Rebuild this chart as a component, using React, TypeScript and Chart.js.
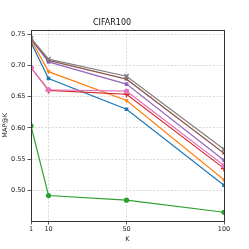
import React, { useEffect, useRef } from "react";
import { Chart, registerables } from "chart.js";

Chart.register(...registerables);

const kValues = [1, 10, 50, 100];
const xTicks = [1, 10, 50, 100];
const yTicks = [0.5, 0.55, 0.6, 0.65, 0.7, 0.75];

const blueSeries = [0.7366, 0.679, 0.6298, 0.508];
const orangeSeries = [0.741, 0.69, 0.6437, 0.5166];
const greenSeries = [0.603, 0.4915, 0.484, 0.4647];
const redSeries = [0.6966, 0.66, 0.6538, 0.535];
const purpleSeries = [0.742, 0.7056, 0.67, 0.548];
const brownSeries = [0.7425, 0.708, 0.678, 0.5593];
const pinkSeries = [0.6966, 0.661, 0.6587, 0.5395];
const graySeries = [0.7436, 0.71, 0.6827, 0.5657];

const seriesList = [
  { values: blueSeries, color: "#1f77b4", style: "rect", rot: 0 },
  { values: orangeSeries, color: "#ff7f0e", style: "triangle", rot: 180 },
  { values: greenSeries, color: "#2ca02c", style: "circle", rot: 0 },
  { values: redSeries, color: "#d62728", style: "cross", rot: 0 },
  { values: purpleSeries, color: "#9467bd", style: "rect", rot: 0 },
  { values: brownSeries, color: "#8c564b", style: "triangle", rot: 0 },
  { values: pinkSeries, color: "#e377c2", style: "circle", rot: 0 },
  { values: graySeries, color: "#7f7f7f", style: "crossRot", rot: 0 },
];

const FONT = "'DejaVu Sans', sans-serif";

const framePlugin = {
  id: "frame",
  afterDatasetsDraw(chart: any) {
    const { ctx, chartArea } = chart;
    ctx.save();
    ctx.strokeStyle = "#333";
    ctx.lineWidth = 1;
    ctx.strokeRect(
      Math.round(chartArea.left) + 0.5,
      Math.round(chartArea.top) + 0.5,
      Math.round(chartArea.right - chartArea.left),
      Math.round(chartArea.bottom - chartArea.top)
    );
    ctx.restore();
  },
};

export default function App() {
  const ref = useRef<HTMLCanvasElement>(null);
  useEffect(() => {
    const chart = new Chart(ref.current!, {
      type: "line",
      data: {
        datasets: seriesList.map((s, i) => ({
          data: kValues.map((k, j) => ({ x: k, y: s.values[j] })),
          borderColor: s.color,
          backgroundColor: s.color,
          borderWidth: 1.2,
          pointStyle: s.style as any,
          pointRotation: s.rot,
          pointRadius: s.style === "cross" || s.style === "crossRot" ? 3 : 2.6,
          pointBorderWidth: s.style === "cross" || s.style === "crossRot" ? 1.5 : 0,
          pointBorderColor: s.color,
          pointBackgroundColor: s.color,
          tension: 0,
          order: seriesList.length - i,
        })),
      },
      options: {
        animation: false,
        responsive: true,
        maintainAspectRatio: false,
        layout: { padding: { left: 0, right: 25, top: 0, bottom: 0 } },
        plugins: {
          legend: { display: false },
          tooltip: { enabled: false },
          title: {
            display: true,
            text: "CIFAR100",
            color: "#111",
            font: { family: FONT, size: 8, weight: "normal" },
            padding: { top: 18, bottom: 2 },
          },
        },
        scales: {
          x: {
            type: "linear",
            min: 1,
            max: 100,
            afterBuildTicks: (scale: any) => {
              scale.ticks = xTicks.map((v) => ({ value: v }));
            },
            afterFit: (scale: any) => {
              scale.height = 28;
            },
            ticks: {
              color: "#222",
              font: { family: FONT, size: 6.5 },
              padding: 1,
              maxRotation: 0,
              autoSkip: false,
              callback: (v: any) => String(v),
            },
            grid: {
              color: "#d0d0d0",
              lineWidth: 0.8,
              tickLength: 3.5,
              tickColor: "#333",
              tickBorderDash: [],
            },
            border: { display: false, dash: [2, 1.5] },
            title: {
              display: true,
              text: "K",
              color: "#222",
              font: { family: FONT, size: 6.5 },
              padding: { top: 0, bottom: 6 },
            },
          },
          y: {
            type: "linear",
            min: 0.4507,
            max: 0.7574,
            afterBuildTicks: (scale: any) => {
              scale.ticks = yTicks.map((v) => ({ value: v }));
            },
            afterFit: (scale: any) => {
              scale.width = 31;
            },
            ticks: {
              color: "#222",
              font: { family: FONT, size: 6.5 },
              padding: 2,
              callback: (v: any) => Number(v).toFixed(2),
            },
            grid: {
              color: "#d0d0d0",
              lineWidth: 0.8,
              tickLength: 3.5,
              tickColor: "#333",
              tickBorderDash: [],
            },
            border: { display: false, dash: [2, 1.5] },
            title: {
              display: true,
              text: "MAP@K",
              color: "#222",
              font: { family: FONT, size: 6.5 },
              padding: { top: 1, bottom: 0 },
            },
          },
        },
      },
      plugins: [framePlugin],
    });
    return () => chart.destroy();
  }, []);
  return (
    <div style={{ position: "fixed", left: 0, top: 0, width: 249, height: 249, background: "#fff" }}>
      <canvas ref={ref} />
    </div>
  );
}
